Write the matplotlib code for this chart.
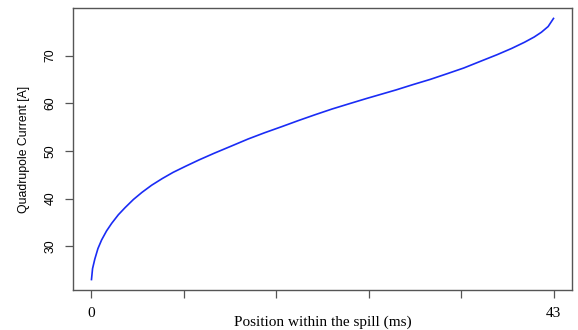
import matplotlib
matplotlib.use("Agg")
import matplotlib.pyplot as plt

# position within the spill (ms) and quadrupole current (A)
t_ms = [0, 0.1, 0.31, 0.6, 0.94, 1.4, 1.88, 2.5, 3.13, 3.9, 4.70, 5.6, 6.59, 7.6,
        8.78, 10.0, 11.41, 13.0, 14.58, 16.1, 17.72, 19.3, 20.82, 22.4, 23.99,
        25.6, 27.13, 28.35, 29.9, 31.52, 33.1, 34.65, 36.2, 37.76, 39.1, 40.30,
        41.2, 41.87, 42.5, 43.0]
current = [23.0, 25.3, 27.3, 29.5, 31.3, 33.2, 34.8, 36.6, 38.1, 39.8, 41.3, 42.8,
           44.2, 45.5, 46.8, 48.1, 49.5, 51.0, 52.5, 53.8, 55.1, 56.4, 57.6, 58.8,
           59.9, 61.0, 62.0, 62.8, 63.9, 65.0, 66.2, 67.4, 68.8, 70.2, 71.5, 72.8,
           73.9, 74.9, 76.1, 77.8]

x_ticks = [0, 8.6, 17.2, 25.8, 34.4, 43]
x_ticklabels = ["0", "", "", "", "", "43"]
y_ticks = [30, 40, 50, 60, 70]

fig = plt.figure(figsize=(5.78, 3.30), dpi=100)
ax = fig.add_axes([0.1263, 0.1212, 0.8633, 0.8546])

ax.plot(t_ms, current, color="#1a2cf5", lw=1.2)

# R-style 4% padding around the data
xr = max(t_ms) - min(t_ms)
yr = max(current) - min(current)
ax.set_xlim(min(t_ms) - 0.04 * xr, max(t_ms) + 0.04 * xr)
ax.set_ylim(min(current) - 0.04 * yr, max(current) + 0.04 * yr)

for s in ax.spines.values():
    s.set_color("#555555")
    s.set_linewidth(1.0)

ax.set_xticks(x_ticks)
ax.set_xticklabels(x_ticklabels, family="Liberation Serif", fontsize=11)
ax.set_yticks(y_ticks)
ax.set_yticklabels([str(v) for v in y_ticks], family="Liberation Sans",
                   fontsize=8.8, rotation=90, va="center")
ax.tick_params(axis="both", direction="out", length=6, width=0.9, color="#555555")
ax.tick_params(axis="x", pad=6)
ax.tick_params(axis="y", pad=6)

ax.set_xlabel("Position within the spill (ms)", family="Liberation Serif",
              fontsize=11, labelpad=-3)
ax.set_ylabel("Quadrupole Current [A]", family="Liberation Sans", fontsize=8.8,
              labelpad=10)

fig.savefig("out.png", dpi=100)
